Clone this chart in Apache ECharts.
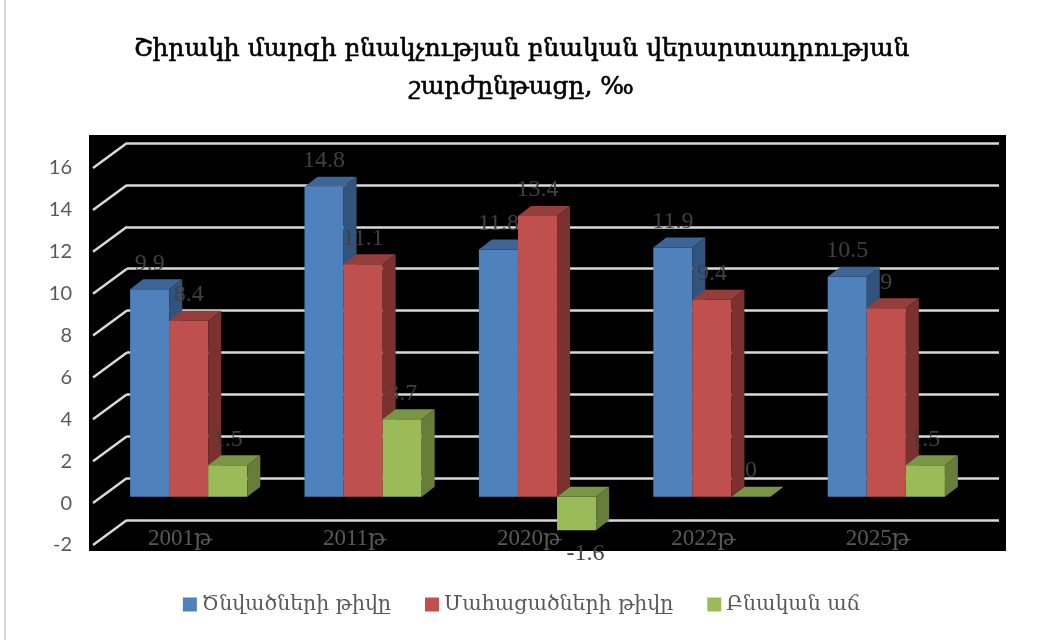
<!DOCTYPE html>
<html>
<head>
<meta charset="utf-8">
<script src="https://cdn.jsdelivr.net/npm/echarts@6/dist/echarts.min.js"></script>
<style>
  html, body { margin: 0; padding: 0; background: #fff; }
  #main { width: 1043px; height: 640px; }
</style>
</head>
<body>
<div id="main"></div>
<script>
// data
var categories = ['2001թ', '2011թ', '2020թ', '2022թ', '2025թ'];
var births = [9.9, 14.8, 11.8, 11.9, 10.5];
var deaths = [8.4, 11.1, 13.4, 9.4, 9];
var naturalGrowth = [1.5, 3.7, -1.6, 0, 1.5];
var seriesNames = ['Ծնվածների թիվը', 'Մահացածների թիվը', 'Բնական աճ'];
var yMin = -2, yMax = 16, yStep = 2;

var chart = echarts.init(document.getElementById('main'));

// 3d look: depth of the wall and of the bars (pixels)
var WALL_DX = 34, WALL_DY = -25;
var FRONT_DX = 8.5, FRONT_DY = -6.4;
var BAR_DX = 13, BAR_DY = -10;

var palette = [
  { front: '#4F81BD', top: '#3D6595', side: '#32537C' },
  { front: '#C0504D', top: '#963E3B', side: '#7B312F' },
  { front: '#9BBB59', top: '#7B9546', side: '#677D3A' }
];
var numFont = '"Liberation Serif", "DejaVu Serif", serif';

var ticks = [];
for (var t = yMin; t <= yMax; t += yStep) ticks.push([0, t]);

function barRenderer(k) {
  return function (params, api) {
    var i = api.value(0), val = api.value(1);
    var band = api.size([1, 0])[0];
    var barW = band * 0.224;
    var base = api.coord([i, 0]);
    var tip = api.coord([i, val]);
    var left = base[0] - 1.5 * barW + k * barW + FRONT_DX;
    var y0 = base[1] + FRONT_DY, y1 = tip[1] + FRONT_DY;
    var top = Math.min(y0, y1), bottom = Math.max(y0, y1);
    var c = palette[k];
    return {
      type: 'group',
      children: [
        { type: 'rect', shape: { x: left, y: top, width: barW, height: bottom - top },
          style: { fill: c.front } },
        { type: 'polygon', shape: { points: [[left, top], [left + BAR_DX, top + BAR_DY],
            [left + barW + BAR_DX, top + BAR_DY], [left + barW, top]] },
          style: { fill: c.top } },
        { type: 'polygon', shape: { points: [[left + barW, top], [left + barW + BAR_DX, top + BAR_DY],
            [left + barW + BAR_DX, bottom + BAR_DY], [left + barW, bottom]] },
          style: { fill: c.side } },
        { type: 'text', z2: 10,
          x: left + barW / 2 + (val < 0 ? 9 : 0),
          y: val < 0 ? bottom + 23 : top - 26,
          style: { text: String(val), fill: '#404040', font: '24px ' + numFont,
            align: 'center', verticalAlign: 'middle' } }
      ]
    };
  };
}

var seriesData = [births, deaths, naturalGrowth];
var series = [{
  type: 'custom',
  xAxisIndex: 0, yAxisIndex: 0,
  silent: true,
  z: 1,
  data: ticks,
  renderItem: function (params, api) {
    var y = api.coord([0, api.value(1)])[1];
    var x0 = params.coordSys.x;
    return { type: 'line', shape: { x1: x0, y1: y, x2: x0 + WALL_DX, y2: y + WALL_DY },
      style: { stroke: '#D9D9D9', lineWidth: 2.5 } };
  }
}];
seriesData.forEach(function (arr, k) {
  series.push({
    name: seriesNames[k],
    type: 'custom',
    xAxisIndex: 0, yAxisIndex: 0,
    itemStyle: { color: palette[k].front },
    z: 3 + k,
    data: arr.map(function (v, i) { return [i, v]; }),
    renderItem: barRenderer(k)
  });
});

var option = {
  backgroundColor: '#fff',
  animation: false,
  title: {
    text: 'Շիրակի մարզի բնակչության բնական վերարտադրության\nշարժընթացը, ‰',
    left: 'center',
    top: 25,
    textStyle: { fontFamily: '"DejaVu Serif", serif', fontSize: 25, fontWeight: 'normal',
      color: '#000', lineHeight: 38, textBorderColor: '#000', textBorderWidth: 0.6 }
  },
  legend: {
    bottom: 20,
    left: 'center',
    icon: 'rect',
    itemWidth: 14, itemHeight: 14, itemGap: 34,
    textStyle: { fontFamily: '"DejaVu Serif", serif', fontSize: 20.5, color: '#595959' },
    data: seriesNames
  },
  graphic: [
    { type: 'rect', z: -10, silent: true, shape: { x: 89, y: 135, width: 917, height: 416 },
      style: { fill: '#000' } },
    { type: 'line', z: -10, silent: true, shape: { x1: 5, y1: 0, x2: 5, y2: 640 },
      style: { stroke: '#D9D9D9', lineWidth: 2 } }
  ],
  grid: [
    { left: 93, top: 168, width: 872, height: 377 },
    { left: 93 + WALL_DX, top: 168 + WALL_DY, width: 872, height: 377 }
  ],
  xAxis: [
    { type: 'category', gridIndex: 0, data: categories,
      axisLine: { show: false }, axisTick: { show: false },
      axisLabel: { margin: -6, verticalAlign: 'middle', color: '#595959',
        fontFamily: numFont, fontSize: 23 } },
    { type: 'category', gridIndex: 1, data: categories, show: false }
  ],
  yAxis: [
    { type: 'value', gridIndex: 0, min: yMin, max: yMax, interval: yStep,
      axisLine: { show: false }, axisTick: { show: false }, splitLine: { show: false },
      axisLabel: { margin: 21, color: '#595959', fontFamily: 'Lato, sans-serif', fontSize: 20 } },
    { type: 'value', gridIndex: 1, min: yMin, max: yMax, interval: yStep,
      axisLine: { show: false }, axisTick: { show: false }, axisLabel: { show: false },
      splitLine: { show: true, lineStyle: { color: '#D9D9D9', width: 2.5 } } }
  ],
  series: series
};

chart.setOption(option);
</script>
</body>
</html>
